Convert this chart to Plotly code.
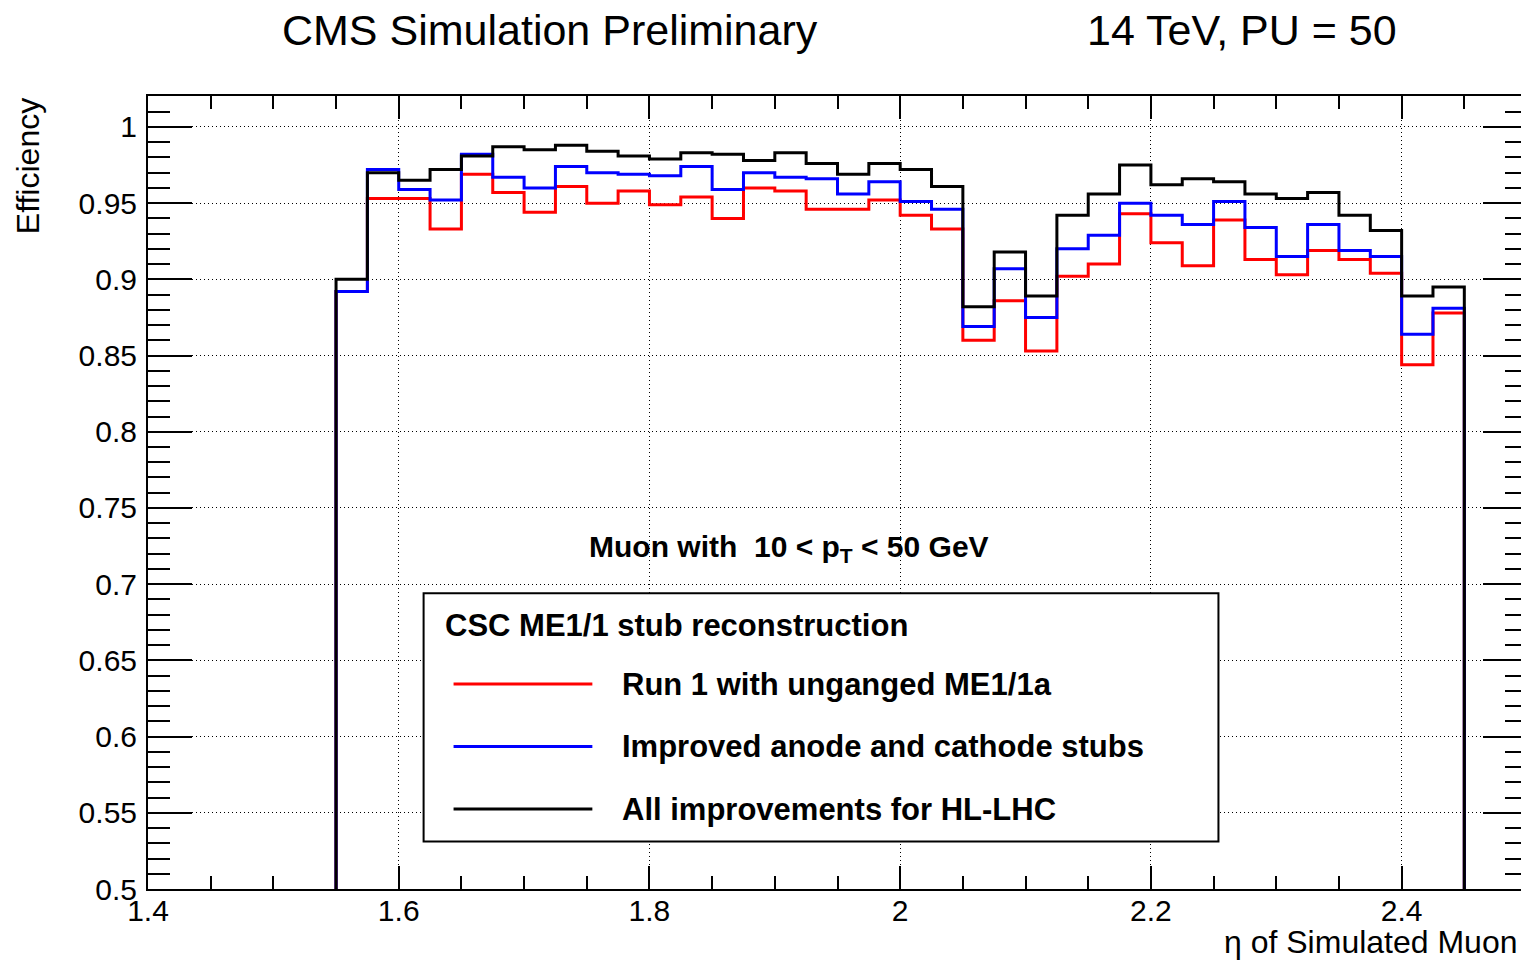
import plotly.graph_objects as go

# ---------------- data ----------------
eta_edges = [1.55, 1.575, 1.6, 1.625, 1.65, 1.675, 1.7, 1.725, 1.75, 1.775,
             1.8, 1.825, 1.85, 1.875, 1.9, 1.925, 1.95, 1.975, 2.0, 2.025,
             2.05, 2.075, 2.1, 2.125, 2.15, 2.175, 2.2, 2.225, 2.25, 2.275,
             2.3, 2.325, 2.35, 2.375, 2.4, 2.425, 2.45]

eff_run1 = [0.892, 0.953, 0.953, 0.933, 0.969, 0.957, 0.944, 0.961, 0.950, 0.958,
            0.949, 0.954, 0.940, 0.960, 0.958, 0.946, 0.946, 0.952, 0.942, 0.933,
            0.860, 0.886, 0.853, 0.902, 0.910, 0.943, 0.924, 0.909, 0.939, 0.913,
            0.903, 0.919, 0.913, 0.904, 0.844, 0.878]

eff_improved = [0.892, 0.972, 0.959, 0.952, 0.982, 0.967, 0.960, 0.974, 0.970, 0.969,
                0.968, 0.974, 0.959, 0.970, 0.967, 0.966, 0.956, 0.964, 0.951, 0.946,
                0.869, 0.907, 0.875, 0.920, 0.929, 0.950, 0.942, 0.936, 0.951, 0.934,
                0.915, 0.936, 0.919, 0.915, 0.864, 0.881]

eff_all = [0.900, 0.970, 0.965, 0.972, 0.981, 0.987, 0.985, 0.988, 0.984, 0.981,
           0.979, 0.983, 0.982, 0.978, 0.983, 0.976, 0.969, 0.976, 0.972, 0.961,
           0.882, 0.918, 0.889, 0.942, 0.956, 0.975, 0.962, 0.966, 0.964, 0.956,
           0.953, 0.957, 0.942, 0.932, 0.889, 0.895]

series_names = ["Run 1 with unganged ME1/1a",
                "Improved anode and cathode stubs",
                "All improvements for HL-LHC"]
series_vals = [eff_run1, eff_improved, eff_all]
series_colors = ["#ff0000", "#0000ff", "#000000"]

x_range = [1.4, 2.5]
y_range = [0.5, 1.0203]

# ---------------- layout geometry ----------------
OFF = 8                      # page body margin of the html page
W, H = 1521, 952
ML, MR, MT, MB = 140, 0, 88, 71
PW, PH = W - ML - MR, H - MT - MB
FONT = "Liberation Sans"


def xp(px):
    """window pixel x -> paper coordinate"""
    return (px - OFF - ML) / PW


def yp(py):
    """window pixel y -> paper coordinate"""
    return (H - MB - (py - OFF)) / PH


fig = go.Figure()

base = y_range[0]
for name, vals, col in zip(series_names, series_vals, series_colors):
    xs = [eta_edges[0]] + eta_edges[:-1] + [eta_edges[-1]]
    ys = [base] + vals + [base]
    fig.add_trace(go.Scatter(x=xs, y=ys, mode="lines", name=name,
                             line=dict(color=col, width=3, shape="hv"),
                             showlegend=False, hoverinfo="skip"))

axis_common = dict(
    ticks="inside", tickcolor="black", tickwidth=1.5,
    showline=True, linecolor="black", linewidth=2, mirror="ticks",
    showgrid=True, gridcolor="black", gridwidth=1, griddash="1px,3px",
    zeroline=False,
    tickfont=dict(family=FONT, size=30, color="black"),
)

fig.update_xaxes(range=x_range, tick0=1.4, dtick=0.2, ticklen=23,
                 ticklabelstandoff=-6,
                 minor=dict(dtick=0.05, ticklen=13, ticks="inside",
                            tickcolor="black", tickwidth=1.5, showgrid=False),
                 **axis_common)
fig.update_yaxes(range=y_range, tick0=0.5, dtick=0.05, ticklen=44,
                 ticklabelstandoff=3,
                 minor=dict(dtick=0.01, ticklen=22, ticks="inside",
                            tickcolor="black", tickwidth=1.5, showgrid=False),
                 **axis_common)

annotations = [
    dict(text="CMS Simulation Preliminary", x=xp(550.5), y=yp(30),
         font=dict(family=FONT, size=43, color="black"),
         xanchor="center", yanchor="middle"),
    dict(text="14 TeV, PU = 50", x=xp(1243.5), y=yp(30),
         font=dict(family=FONT, size=43, color="black"),
         xanchor="center", yanchor="middle"),
    dict(text="Efficiency", x=xp(28), y=yp(96), textangle=-90,
         font=dict(family=FONT, size=32, color="black"),
         xanchor="center", yanchor="top"),
    dict(text="η of Simulated Muon", x=xp(1522), y=yp(942),
         font=dict(family=FONT, size=32, color="black"),
         xanchor="right", yanchor="middle"),
    dict(text="<b>Muon with\u00a0\u00a010 &lt; p<sub>T</sub> &lt; 50 GeV</b>",
         x=xp(789.5), y=yp(548),
         font=dict(family=FONT, size=30, color="black"),
         xanchor="center", yanchor="middle"),
    dict(text="<b>CSC ME1/1 stub reconstruction</b>", x=xp(443), y=yp(625),
         font=dict(family=FONT, size=31, color="black"),
         xanchor="left", yanchor="middle"),
]

shapes = [
    dict(type="rect", xref="paper", yref="paper",
         x0=xp(424), x1=xp(1220), y0=yp(841.5), y1=yp(593.3),
         fillcolor="white", line=dict(color="black", width=2), layer="above"),
]

entry_rows = [684, 746.5, 809]
for name, col, row in zip(series_names, series_colors, entry_rows):
    shapes.append(dict(type="line", xref="paper", yref="paper",
                       x0=xp(454), x1=xp(593), y0=yp(row), y1=yp(row),
                       line=dict(color=col, width=3), layer="above"))
    annotations.append(dict(text="<b>" + name + "</b>", x=xp(621), y=yp(row),
                            font=dict(family=FONT, size=31, color="black"),
                            xanchor="left", yanchor="middle"))

for a in annotations:
    a.update(xref="paper", yref="paper", showarrow=False)

fig.update_layout(
    width=W, height=H,
    margin=dict(l=ML, r=MR, t=MT, b=MB, pad=0),
    paper_bgcolor="white", plot_bgcolor="white",
    font=dict(family=FONT, color="black"),
    annotations=annotations, shapes=shapes,
    showlegend=False,
)

fig.write_html("out.html")
